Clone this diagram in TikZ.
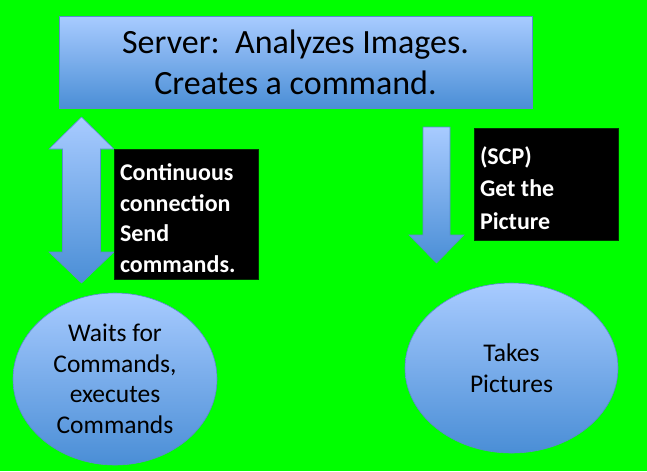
\documentclass[tikz,border=0pt]{standalone}
\usepackage{fontspec}
\setmainfont{Carlito}
\usetikzlibrary{shapes.geometric}
\definecolor{bggreen}{HTML}{00FF00}
\definecolor{ltblue}{HTML}{A8CBFF}
\definecolor{dkblue}{HTML}{4A8ED6}
\definecolor{edgeblue}{HTML}{5A8AD0}
\tikzset{
  blueshade/.style={top color=ltblue, bottom color=dkblue, draw=edgeblue, line width=0.6pt},
  serverbox/.style={blueshade, rectangle, minimum width=473pt, minimum height=92pt, inner sep=0pt,
    align=center, font=\fontsize{34}{41}\selectfont},
  bubble/.style={blueshade, ellipse, inner sep=0pt, align=center, font=\fontsize{25.5}{30.5}\selectfont},
  blackbox/.style={fill=black, draw=black!80!green, rectangle, text=white, align=flush left,
    minimum width=144pt, text width=132pt, inner sep=6pt}
}
\begin{document}
\begin{tikzpicture}[x=1pt,y=-1pt]
\fill[bggreen] (0,0) rectangle (647,471);
\useasboundingbox (0,0) rectangle (647,471);

\node[serverbox] (server) at (295.5,62.5) {Server:\ \ Analyzes Images.\\Creates a command.};

% double arrow
\path[blueshade] (81.5,117) -- (114,149) -- (100.5,149) -- (100.5,252) -- (114,252) -- (81.5,283)
  -- (49,252) -- (62.5,252) -- (62.5,149) -- (49,149) -- cycle;

% single arrow
\path[blueshade] (423,127) -- (450,127) -- (450,235) -- (464,235) -- (436.5,263) -- (409,235)
  -- (423,235) -- cycle;

\node[blackbox, minimum height=130pt] (conn) at (186,214) {};
\node[text=white, align=flush left, text width=132pt, inner sep=0pt,
  font=\bfseries\fontsize{24}{30.5}\selectfont] (conntext) at (186,218)
  {Continuous\\connection\\Send\\commands.};
\node[blackbox, minimum height=112pt] (scp) at (546,184) {};
\node[text=white, align=flush left, text width=132pt, inner sep=0pt,
  font=\bfseries\fontsize{24}{32.5}\selectfont] (scptext) at (546,188)
  {(SCP)\\Get the\\Picture};

\node[bubble, minimum width=204pt, minimum height=172pt] (client) at (115,379)
  {Waits for\\Commands,\\executes\\Commands};
\node[bubble, minimum width=213pt, minimum height=170pt] (camera) at (511.5,368)
  {Takes\\Pictures};
\end{tikzpicture}
\end{document}
